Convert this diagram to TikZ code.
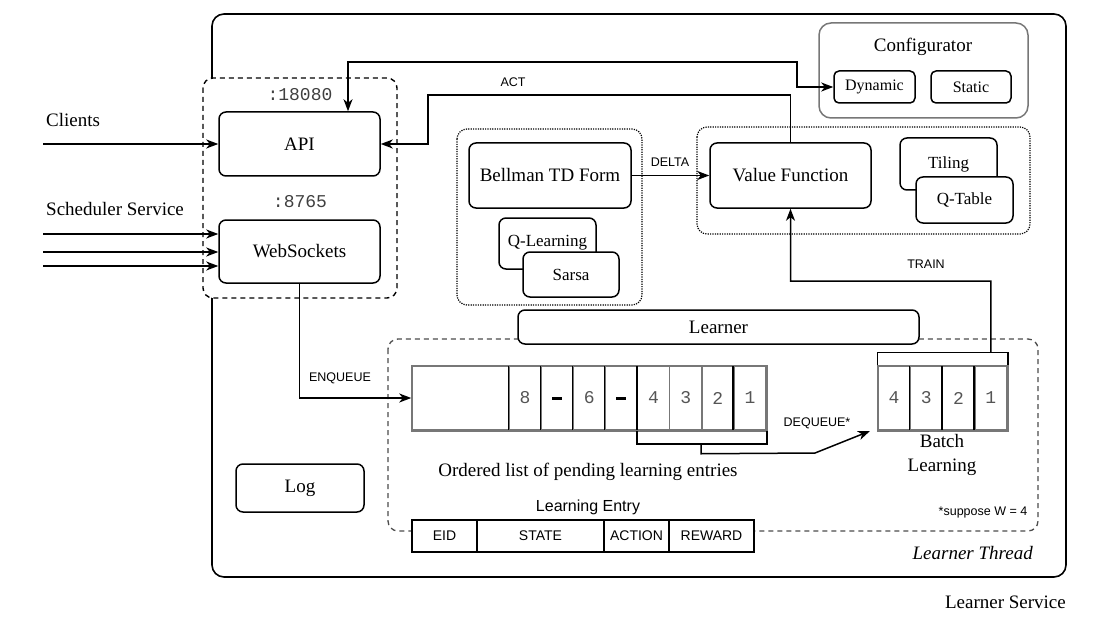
\documentclass[tikz,border=0pt]{standalone}
\usepackage{fontspec}
\setmainfont{Liberation Serif}
\setsansfont{Liberation Sans}
\setmonofont{Liberation Mono}
\usetikzlibrary{arrows.meta,calc}
\definecolor{gborder}{HTML}{777777}
\definecolor{gtext}{HTML}{555555}
\newcommand{\qdash}{\textcolor{black}{\rule{10pt}{3pt}}}
\begin{document}
\begin{tikzpicture}[x=1pt,y=-1pt,
  lw/.style={line width=1.5pt},
  box/.style={draw, line width=1.5pt, rounded corners=7pt, fill=white, inner sep=0pt, font=\fontsize{19}{22}\selectfont},
  sbox/.style={box, font=\fontsize{17}{20}\selectfont},
  tbox/.style={box, font=\fontsize{16}{19}\selectfont, rounded corners=5pt},
  serif/.style={inner sep=0pt, font=\fontsize{19}{22}\selectfont},
  lab/.style={inner sep=0pt, font=\sffamily\fontsize{12.5}{14}\selectfont},
  port/.style={inner sep=0pt, text=black!75, font=\ttfamily\fontsize{18}{20}\selectfont},
  cell/.style={draw=gborder, line width=1.5pt, fill=white, inner sep=0pt, minimum height=64, text=gtext, font=\ttfamily\fontsize{18}{20}\selectfont},
  ecell/.style={draw, line width=1.5pt, fill=white, inner sep=0pt, minimum height=32, font=\sffamily\fontsize{14}{16}\selectfont},
  arr/.style={line width=1.5pt, -{Stealth[length=12pt,width=9pt,inset=3.5pt]}},
  biarr/.style={line width=1.5pt, {Stealth[length=12pt,width=9pt,inset=3.5pt]}-{Stealth[length=12pt,width=9pt,inset=3.5pt]}},
  dotgrp/.style={line width=1.2pt, dash pattern=on 1.2pt off 1.2pt, rounded corners=10pt},
  dashgrp/.style={line width=1.4pt, dash pattern=on 5pt off 4pt, rounded corners=10pt},
]
\useasboundingbox (0,0) rectangle (1113,631);

% outer Learner Service box
\draw[line width=1.6pt, rounded corners=12pt] (212,14) rectangle (1066,577);
\node[serif, anchor=east] (svc) at (1066,602) {Learner Service};
\node[serif, anchor=east, font=\itshape\fontsize{19}{22}\selectfont] (thr) at (1033,553) {Learner Thread};

% API group
\draw[dashgrp, fill=white] (203,78) rectangle (397,298);
\node[port] (p1) at (300,95) {:18080};
\node[box, minimum width=161, minimum height=64] (api) at (299.5,144) {API};
\node[port] (p2) at (300,202) {:8765};
\node[box, minimum width=161, minimum height=63] (ws) at (299.5,251.5) {WebSockets};

% clients
\node[serif, anchor=west] (cli) at (46,120) {Clients};
\node[serif, anchor=west] (sch) at (46,209) {Scheduler Service};
\coordinate (c0) at (43,144);
\coordinate (s1) at (43,234);
\coordinate (s2) at (43,252);
\coordinate (s3) at (43,266);
\draw[arr] (c0) -- (api.west);
\draw[arr] (s1) -- (s1 -| ws.west);
\draw[arr] (s2) -- (s2 -| ws.west);
\draw[arr] (s3) -- (s3 -| ws.west);

% configurator
\draw[draw=gborder, line width=1.5pt, rounded corners=12pt] (819,23) rectangle (1028,118);
\node[serif] (cfg) at (923,47) {Configurator};
\node[tbox, minimum width=81, minimum height=32] (dyn) at (874.5,87) {Dynamic};
\node[tbox, minimum width=80, minimum height=32] (sta) at (971,87) {Static};

% Bellman group
\draw[dotgrp] (457,129) rectangle (642,305);
\node[box, minimum width=162, minimum height=65] (bell) at (550,175.5) {Bellman TD Form};
\node[sbox, minimum width=97, minimum height=51] (ql) at (547.5,243.5) {\raisebox{4.5pt}{Q-Learning}};
\node[sbox, minimum width=96, minimum height=45] (sar) at (571,274.5) {Sarsa};

% Value function group
\draw[dotgrp] (697,127) rectangle (1030,234);
\node[box, minimum width=161, minimum height=65] (vf) at (790.5,175.5) {Value Function};
\node[sbox, minimum width=97, minimum height=52] (til) at (948.5,164) {\raisebox{3pt}{Tiling}};
\node[sbox, minimum width=97, minimum height=46] (qt) at (964.5,200) {Q-Table};

% Learner thread group
\draw[dashgrp, draw=black!70, line width=1.3pt] (388,339) rectangle (1038,531);
\node[box, minimum width=401, minimum height=34] (lrn) at (718.5,327) {Learner};

% queue
\node[cell, minimum width=97] (q0) at (460.5,398) {};
\foreach \n/\t [count=\i from 0] in {qa/8,qb/\qdash,qc/6,qd/\qdash,q4/4,q3/3,q2/2,q1/1}{
  \node[cell, minimum width=32.125] (\n) at ({509+16.06+\i*32.125},398) {\t};
}
\draw[line width=1.5pt] (qa.north west) -- (qa.south west)
  (qb.north west) -- (qb.south west) (qc.north west) -- (qc.south west)
  (qd.north west) -- (qd.south west) (q4.north west) -- (q4.south west)
  (q1.north west) -- (q1.south west);
\draw[line width=1.5pt, draw=gborder] (q0.north west) rectangle (q1.south east);
\node[serif] (olist) at (588,472) {Ordered list of pending learning entries};

% batch
\foreach \n/\t [count=\i from 0] in {b4/4,b3/3,b2/2,b1/1}{
  \node[cell, minimum width=32.25] (\n) at ({878+16.125+\i*32.25},398) {\t};
}
\draw[line width=1.5pt] (b3.north west) -- (b3.south west) (b2.north west) -- (b2.south west) (b1.north west) -- (b1.south west);
\draw[line width=1.5pt, draw=gborder] (b4.north west) rectangle (b1.south east);
\node[serif, align=center, font=\fontsize{19}{24}\selectfont] (bl) at (942,455) {Batch\\Learning};

% brackets
\draw[lw] (q4.south west) -- ++(0,13) -| (q1.south east);
\draw[lw] (b4.north west) -- ++(0,-13) -| (b1.north east);

% connectors
\draw[arr] (bell.east) -- (vf.west);
\node[lab] (delta) at (670,162) {DELTA};

\draw[arr] (vf.north) |- (428,95) |- (api.east);
\node[lab] (act) at (513,82) {ACT};

\draw[biarr] ($(api.north)+(48.5,0)$) |- (797,62) |- (dyn.west);

\draw[arr] (ws.south) |- (q0.west);
\node[lab] (enq) at (340,378) {ENQUEUE};

\coordinate (dqe) at (870,431);
\draw[arr] ($(q2.south west)+(0,13)$) -- ++(0,10) -- (815,453) -- (dqe);
\node[lab] (deq) at (817,423) {DEQUEUE*};

\draw[arr] ($(b1.north)+(0,-13)$) -- (990.9,281) -| (vf.south);
\node[lab] (train) at (926,264) {TRAIN};

% log
\node[box, minimum width=128, minimum height=48] (log) at (300,488) {Log};

% learning entry
\node[inner sep=0pt, font=\sffamily\fontsize{16}{18}\selectfont] (le) at (588,507) {Learning Entry};
\node[ecell, minimum width=65] (eid) at (444.5,536) {EID};
\node[ecell, minimum width=127] (est) at (540.5,536) {STATE};
\node[ecell, minimum width=65] (eac) at (636.5,536) {ACTION};
\node[ecell, minimum width=85] (erw) at (711.5,536) {REWARD};

\node[lab] (sup) at (983,512) {*suppose W = 4};
\end{tikzpicture}
\end{document}
